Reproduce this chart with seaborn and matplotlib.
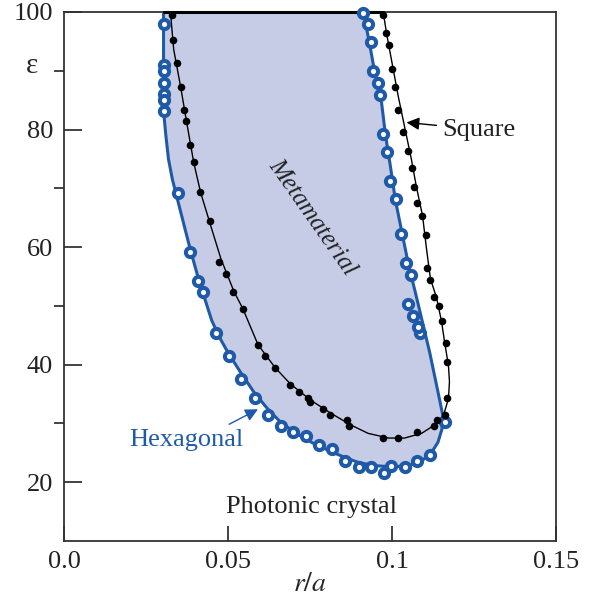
import matplotlib
matplotlib.use("Agg")
from matplotlib import pyplot as plt
import numpy as np
import pandas as pd
import seaborn as sns

# hexagonal lattice: measured points
hex_r = [0.0303, 0.0303, 0.0303, 0.0303, 0.0303, 0.0303, 0.0303, 0.0346, 0.0383, 0.0407,
         0.0422, 0.0462, 0.0502, 0.0539, 0.0582, 0.0621, 0.0661, 0.0698, 0.0738, 0.0777,
         0.0817, 0.0857, 0.0900, 0.0937, 0.0976, 0.0998, 0.1038, 0.1077, 0.1117, 0.1160,
         0.1084, 0.1080, 0.1065, 0.1050, 0.1059, 0.1041, 0.1028, 0.1013, 0.0995, 0.0983,
         0.0973, 0.0964, 0.0958, 0.0943, 0.0937, 0.0927, 0.0912]
hex_eps = [98.0, 91.0, 90.0, 88.0, 86.1, 85.1, 83.1, 69.2, 59.2, 54.2,
           52.4, 45.3, 41.4, 37.5, 34.4, 31.4, 29.5, 28.5, 27.8, 26.4,
           25.6, 23.6, 22.5, 22.5, 21.5, 22.7, 22.5, 23.6, 24.6, 30.3,
           45.4, 46.4, 48.3, 50.3, 55.3, 57.3, 62.2, 68.1, 71.2, 76.1,
           79.2, 85.9, 88.0, 90.0, 94.9, 98.0, 99.8]

# hexagonal boundary curve
hex_curve_r = [0.0303, 0.0303, 0.0304, 0.0305, 0.0310, 0.0318, 0.0330, 0.0346, 0.0362, 0.0378,
               0.0395, 0.0410, 0.0430, 0.0450, 0.0475, 0.0500, 0.0540, 0.0580, 0.0620, 0.0660,
               0.0710, 0.0760, 0.0810, 0.0860, 0.0900, 0.0950, 0.1000, 0.1050, 0.1090, 0.1120,
               0.1140, 0.1152, 0.1156, 0.1145, 0.1130, 0.1115, 0.1100, 0.1085, 0.1070, 0.1050,
               0.1030, 0.1010, 0.0995, 0.0980, 0.0967, 0.0955, 0.0943, 0.0930, 0.0912]
hex_curve_eps = [100, 92, 86, 82, 79, 75, 71.5, 68, 64.5, 61,
                 57.5, 54.5, 51, 47.5, 44.5, 42, 38.5, 35.2, 32.5, 30.2,
                 28.2, 26.6, 25.3, 24.1, 23.3, 22.8, 22.6, 22.8, 23.6, 25,
                 26.8, 29, 31, 34, 38, 42, 45.5, 49, 52.5, 57,
                 62.5, 68, 73.7, 79, 85, 88, 91, 95, 100]

# square lattice: measured points
sq_r = [0.0328, 0.0331, 0.0343, 0.0355, 0.0364, 0.0373, 0.0383, 0.0395, 0.0413, 0.0444,
        0.0471, 0.0493, 0.0514, 0.0545, 0.0591, 0.0612, 0.0643, 0.0689, 0.0716, 0.0744,
        0.0750, 0.0790, 0.0811, 0.0863, 0.0869, 0.0973, 0.1019, 0.1077, 0.1129, 0.1136,
        0.1160, 0.1166, 0.1169, 0.1163, 0.1151, 0.1142, 0.1129, 0.1117, 0.1108, 0.1102,
        0.1090, 0.1077, 0.1068, 0.1062, 0.1050, 0.1032, 0.1019, 0.1010, 0.1001, 0.0992,
        0.0980, 0.0973]
sq_eps = [99.5, 95.3, 91.4, 87.3, 83.4, 81.4, 77.3, 74.4, 69.3, 64.4,
          57.5, 55.4, 52.4, 49.5, 43.4, 41.5, 39.5, 36.6, 35.4, 34.4,
          33.6, 32.5, 31.5, 30.5, 29.5, 27.5, 27.5, 28.5, 29.5, 30.5,
          31.4, 34.4, 40.5, 43.6, 47.5, 50.0, 51.5, 54.4, 56.4, 62.0,
          65.3, 67.5, 70.3, 73.4, 76.3, 79.5, 83.4, 87.3, 90.3, 94.4,
          96.4, 99.5]

# square boundary curve
sq_curve_r = [0.0324, 0.0334, 0.0355, 0.0373, 0.0395, 0.0416, 0.0447, 0.0478, 0.0518, 0.0545,
              0.0591, 0.0643, 0.0690, 0.0753, 0.0814, 0.0875, 0.0927, 0.0989, 0.1038, 0.1090,
              0.1129, 0.1157, 0.1172, 0.1175, 0.1172, 0.1160, 0.1151, 0.1136, 0.1117, 0.1105,
              0.1093, 0.1074, 0.1059, 0.1038, 0.1019, 0.0998, 0.0983, 0.0973]
sq_curve_eps = [100, 93.6, 87.3, 81.4, 74.4, 69.3, 63.6, 58.0, 52.4, 49.5,
                43.4, 39.5, 36.7, 33.9, 31.7, 29.7, 28.3, 27.5, 27.5, 28.3,
                29.7, 31.4, 34.2, 37.1, 39.8, 43.9, 47.3, 51.3, 54.6, 59.7,
                65.3, 70.3, 74.9, 80.5, 85.6, 91.9, 96.4, 100]

BLUE = "#1f5aa8"
FILL = "#c7cce6"

sns.set_style("ticks")
plt.rcParams['font.family'] = ['Liberation Serif', 'DejaVu Serif']
plt.rcParams['mathtext.fontset'] = 'stix'

fig = plt.figure(figsize=(5.89, 5.99), dpi=100)
ax = fig.add_axes([0.109, 0.097, 0.835, 0.883])

ax.fill(hex_curve_r, hex_curve_eps, color=FILL, lw=0, zorder=1)

hex_line = pd.DataFrame({"r": hex_curve_r, "eps": hex_curve_eps})
sq_line = pd.DataFrame({"r": sq_curve_r, "eps": sq_curve_eps})
sns.lineplot(data=hex_line, x="r", y="eps", sort=False, estimator=None, color=BLUE, lw=2.2, ax=ax, zorder=3)
sns.lineplot(data=sq_line, x="r", y="eps", sort=False, estimator=None, color="black", lw=1.0, ax=ax, zorder=3)
ax.plot([hex_curve_r[0], sq_curve_r[-1]], [100, 100], color="black", lw=2.2, clip_on=False, zorder=4)

hex_pts = pd.DataFrame({"r": hex_r, "eps": hex_eps})
sq_pts = pd.DataFrame({"r": sq_r, "eps": sq_eps})
sns.scatterplot(data=hex_pts, x="r", y="eps", marker="o", s=44, facecolor="white",
                edgecolor=BLUE, linewidth=2.9, ax=ax, zorder=5, clip_on=False)
sns.scatterplot(data=sq_pts, x="r", y="eps", marker="o", s=30, color="black",
                edgecolor="black", linewidth=0, ax=ax, zorder=6, clip_on=False)

ax.set_xlim(0, 0.15)
ax.set_ylim(10, 100)
ax.set_xticks([0.0, 0.05, 0.1, 0.15])
ax.set_xticklabels(["0.0", "0.05", "0.1", "0.15"])
ax.set_yticks([20, 40, 60, 80, 100])
ax.set_yticks([30, 50, 70, 90], minor=True)
ax.tick_params(axis="both", direction="in", labelsize=19, colors="#222222", width=1.2)
ax.tick_params(axis="y", which="major", length=13, pad=8)
ax.tick_params(axis="y", which="minor", length=7, width=1.2, color="#222222")
ax.tick_params(axis="x", which="major", length=11, pad=7)
for s in ax.spines.values():
    s.set_visible(True)
    s.set_color("#333333")
    s.set_linewidth(1.3)

ax.set_xlabel("$r/a$", fontsize=20)
ax.xaxis.set_label_coords(0.5, -0.058)
ax.set_ylabel("")
ax.text(-0.066, 0.898, "ε", transform=ax.transAxes, fontsize=21, ha="center", va="center")

ax.text(0.0756, 65.0, "Metamaterial", rotation=-55, style="italic", fontsize=18,
        ha="center", va="center", color="#222222", zorder=7)
ax.annotate("Square", xy=(0.1044, 81.2), xytext=(0.1154, 80.0), fontsize=19,
            ha="left", va="center", color="#222222",
            arrowprops=dict(arrowstyle="-|>", color="black", lw=1.0, shrinkA=2, shrinkB=0))
ax.annotate("Hexagonal", xy=(0.0591, 32.4), xytext=(0.0372, 27.2), fontsize=19,
            ha="center", va="center", color=BLUE,
            arrowprops=dict(arrowstyle="-|>", color=BLUE, lw=1.0, shrinkA=2, shrinkB=0,
                            relpos=(0.8, 1.0)))
ax.text(0.0753, 15.8, "Photonic crystal", fontsize=19, ha="center", va="center", color="#222222")

fig.savefig("out.png", dpi=100)
plt.close(fig)
